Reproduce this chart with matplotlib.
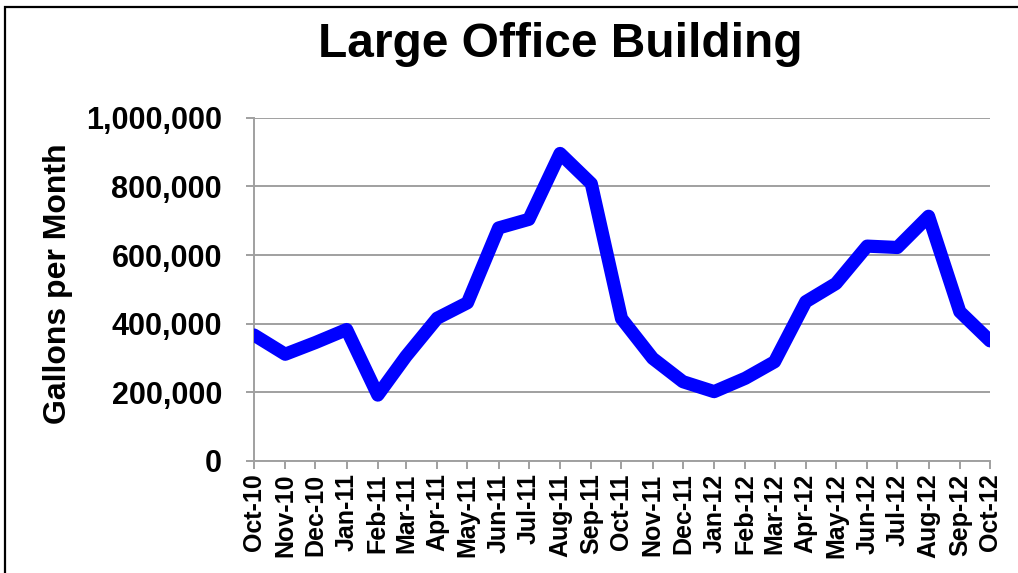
import numpy as np
import pandas as pd
import matplotlib
matplotlib.use('Agg')
import matplotlib.pyplot as plt
import matplotlib.dates as mdates
from matplotlib.ticker import FuncFormatter, MultipleLocator
from matplotlib.patches import Rectangle

plt.rcParams['font.family'] = ['Liberation Sans', 'DejaVu Sans']

# monthly water use
months = pd.date_range('2010-10-01', '2012-10-01', freq='MS')
gallons = [367000, 311000, 345000, 383000, 192000, 305000, 416000, 461000, 679000, 704000,
           896000, 808000, 415000, 299000, 231000, 202000, 241000, 289000, 464000, 517000,
           626000, 622000, 713000, 435000, 350000]

title = 'Large Office Building'
ylabel = 'Gallons per Month'

fig = plt.figure(figsize=(10.18, 5.73), dpi=100)
ax = fig.add_axes([0.2495, 0.1955, 0.723, 0.599])

ax.plot(months, gallons, color='#0000ff', linewidth=9.5,
        solid_joinstyle='round', solid_capstyle='round', zorder=3)

ax.set_ylim(0, 1000000)
ax.set_xlim(months[0], months[-1])
ax.yaxis.set_major_locator(MultipleLocator(200000))
ax.yaxis.set_major_formatter(FuncFormatter(lambda v, p: '{:,.0f}'.format(v)))
ax.xaxis.set_major_locator(mdates.MonthLocator())
ax.xaxis.set_major_formatter(mdates.DateFormatter('%b-%y'))

ax.grid(axis='y', color='#a0a0a0', linewidth=1.4)
ax.set_axisbelow(True)
for side in ['top', 'right']:
    ax.spines[side].set_visible(False)
for side in ['left', 'bottom']:
    ax.spines[side].set_color('#a0a0a0')
    ax.spines[side].set_linewidth(1.4)
ax.tick_params(axis='both', colors='#a0a0a0', length=6, width=1.4)
ax.tick_params(axis='y', labelcolor='black', labelsize=22, pad=17)
ax.tick_params(axis='x', labelcolor='black', labelsize=18, labelrotation=90, pad=3)
for lbl in ax.get_xticklabels() + ax.get_yticklabels():
    lbl.set_fontweight('bold')

fig.text(0.057, 0.505, ylabel, rotation=90, fontsize=23, fontweight='bold',
         ha='center', va='center')
fig.text(0.55, 0.922, title, fontsize=34.5, fontweight='bold', ha='center', va='center')

# outer frame of the slide
fig.patches.append(Rectangle((0.005, -0.1), 1.2, 1.088, transform=fig.transFigure,
                             fill=False, edgecolor='black', linewidth=1.6))

fig.savefig('out.png', dpi=100)
